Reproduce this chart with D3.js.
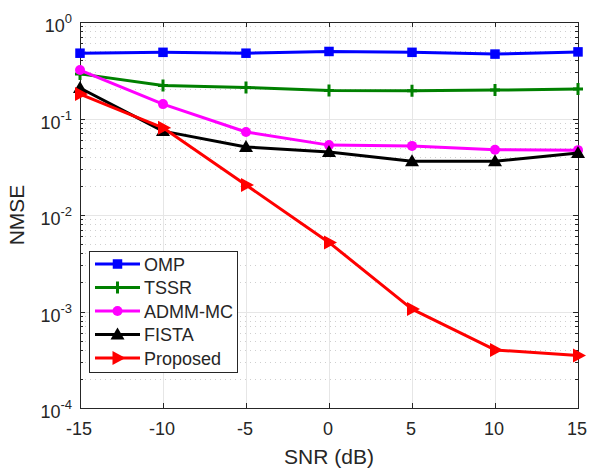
<!DOCTYPE html>
<html>
<head>
<meta charset="utf-8">
<script src="https://cdn.jsdelivr.net/npm/d3@7"></script>
<style>
  body { margin: 0; background: #fff; }
  text { font-family: "Liberation Sans", Arial, sans-serif; fill: #262626; }
</style>
</head>
<body>
<svg id="chart" width="589" height="468"></svg>
<script>
const snr = [-15, -10, -5, 0, 5, 10, 15];
const omp = [0.475, 0.485, 0.475, 0.495, 0.485, 0.465, 0.49];
const tssr = [0.29, 0.22, 0.21, 0.195, 0.194, 0.197, 0.202];
const admm = [0.318, 0.141, 0.0725, 0.053, 0.052, 0.0475, 0.047];
const fista = [0.207, 0.074, 0.0507, 0.045, 0.036, 0.036, 0.044];
const proposed = [0.179, 0.08, 0.0205, 0.0052, 0.00106, 0.0004, 0.00035];
const x_ticks = [-15, -10, -5, 0, 5, 10, 15];
const y_decades = [-4, -3, -2, -1, 0];

const series = [
  { name: "OMP", values: omp, color: "#0000ff", marker: "square" },
  { name: "TSSR", values: tssr, color: "#008000", marker: "plus" },
  { name: "ADMM-MC", values: admm, color: "#ff00ff", marker: "circle" },
  { name: "FISTA", values: fista, color: "#000000", marker: "triangle" },
  { name: "Proposed", values: proposed, color: "#ff0000", marker: "right" },
];

const svg = d3.select("#chart");
const plot_left = 80, plot_right = 578, plot_top = 22, plot_bottom = 408;
const axis_color = "#262626";

let x = d3.scaleLinear().domain([-15, 15]).range([plot_left, plot_right]);
let y = d3.scaleLog().domain([1e-4, 1]).range([plot_bottom, plot_top]);

// minor values 2..9 per decade
let minor = [];
y_decades.slice(0, -1).forEach((d) => {
  for (let k = 2; k <= 9; k++) minor.push(k * Math.pow(10, d));
});

// grid
svg.append("g").selectAll("line").data(minor).enter().append("line")
  .attr("x1", plot_left).attr("x2", plot_right)
  .attr("y1", (v) => Math.round(y(v)) + 0.5).attr("y2", (v) => Math.round(y(v)) + 0.5)
  .attr("stroke", "#cfcfcf").attr("stroke-width", 1).attr("stroke-dasharray", "1,4");
svg.append("g").selectAll("line").data(y_decades).enter().append("line")
  .attr("x1", plot_left).attr("x2", plot_right)
  .attr("y1", (d) => Math.round(y(Math.pow(10, d))) + 0.5).attr("y2", (d) => Math.round(y(Math.pow(10, d))) + 0.5)
  .attr("stroke", "#e6e6e6").attr("stroke-width", 1);
svg.append("g").selectAll("line").data(x_ticks).enter().append("line")
  .attr("x1", (t) => Math.round(x(t)) + 0.5).attr("x2", (t) => Math.round(x(t)) + 0.5)
  .attr("y1", plot_top).attr("y2", plot_bottom)
  .attr("stroke", "#e6e6e6").attr("stroke-width", 1);

// axes box
svg.append("rect").attr("x", plot_left + 0.5).attr("y", plot_top + 0.5)
  .attr("width", plot_right - plot_left).attr("height", plot_bottom - plot_top)
  .attr("fill", "none").attr("stroke", axis_color).attr("stroke-width", 1);

// ticks
let ticks = svg.append("g").attr("stroke", axis_color).attr("stroke-width", 1);
x_ticks.forEach((t) => {
  let px = Math.round(x(t)) + 0.5;
  ticks.append("line").attr("x1", px).attr("x2", px).attr("y1", plot_bottom).attr("y2", plot_bottom - 5);
  ticks.append("line").attr("x1", px).attr("x2", px).attr("y1", plot_top).attr("y2", plot_top + 5);
});
y_decades.forEach((d) => {
  let py = Math.round(y(Math.pow(10, d))) + 0.5;
  ticks.append("line").attr("x1", plot_left).attr("x2", plot_left + 5).attr("y1", py).attr("y2", py);
  ticks.append("line").attr("x1", plot_right).attr("x2", plot_right - 5).attr("y1", py).attr("y2", py);
});
minor.forEach((v) => {
  let py = Math.round(y(v)) + 0.5;
  ticks.append("line").attr("x1", plot_left).attr("x2", plot_left + 3).attr("y1", py).attr("y2", py);
  ticks.append("line").attr("x1", plot_right).attr("x2", plot_right - 3).attr("y1", py).attr("y2", py);
});

// tick labels
svg.append("g").selectAll("text").data(x_ticks).enter().append("text")
  .attr("x", (t) => x(t) - 1).attr("y", 435)
  .attr("text-anchor", "middle").attr("font-size", 18)
  .text((t) => t);

y_decades.forEach((d) => {
  let t = svg.append("text").attr("x", 72).attr("y", y(Math.pow(10, d)) + 10)
    .attr("text-anchor", "end").attr("font-size", 18);
  t.append("tspan").text("10");
  t.append("tspan").attr("dy", -9).attr("font-size", 13).text(d);
});

svg.append("text").attr("x", (plot_left + plot_right) / 2).attr("y", 464)
  .attr("text-anchor", "middle").attr("font-size", 21).text("SNR (dB)");
svg.append("text").attr("transform", `translate(24,${(plot_top + plot_bottom) / 2}) rotate(-90)`)
  .attr("text-anchor", "middle").attr("font-size", 21).text("NMSE");

function drawMarker(g, kind, color, px, py) {
  if (kind === "square") {
    g.append("rect").attr("x", px - 4).attr("y", py - 4).attr("width", 8).attr("height", 8)
      .attr("fill", color).attr("stroke", color).attr("stroke-width", 1.5);
  } else if (kind === "plus") {
    g.append("path").attr("d", `M${px - 5},${py}H${px + 5}M${px},${py - 6}V${py + 6}`)
      .attr("stroke", color).attr("stroke-width", 3).attr("fill", "none");
  } else if (kind === "circle") {
    g.append("circle").attr("cx", px).attr("cy", py).attr("r", 5).attr("fill", color);
  } else if (kind === "triangle") {
    g.append("path").attr("d", `M${px},${py - 7}L${px + 7},${py + 5}L${px - 7},${py + 5}Z`)
      .attr("fill", color);
  } else if (kind === "right") {
    g.append("path").attr("d", `M${px + 8},${py}L${px - 5},${py - 7}L${px - 5},${py + 7}Z`)
      .attr("fill", color);
  }
}

let line = d3.line().x((d, i) => x(snr[i])).y((d) => y(d));

series.forEach((s) => {
  let g = svg.append("g");
  g.append("path").datum(s.values).attr("d", line)
    .attr("fill", "none").attr("stroke", s.color).attr("stroke-width", 3)
    .attr("stroke-linejoin", "round");
  s.values.forEach((v, i) => drawMarker(g, s.marker, s.color, x(snr[i]), y(v)));
});

// legend
let lg = svg.append("g");
lg.append("rect").attr("x", 89.5).attr("y", 251.5).attr("width", 148).attr("height", 121)
  .attr("fill", "#fff").attr("stroke", axis_color).attr("stroke-width", 1);
series.forEach((s, i) => {
  let ly = 264 + i * 23.5;
  lg.append("line").attr("x1", 95).attr("x2", 140).attr("y1", ly).attr("y2", ly)
    .attr("stroke", s.color).attr("stroke-width", 3);
  drawMarker(lg, s.marker, s.color, 117.5, ly);
  lg.append("text").attr("x", 144).attr("y", ly + 6.5).attr("font-size", 18).text(s.name);
});
</script>
</body>
</html>
